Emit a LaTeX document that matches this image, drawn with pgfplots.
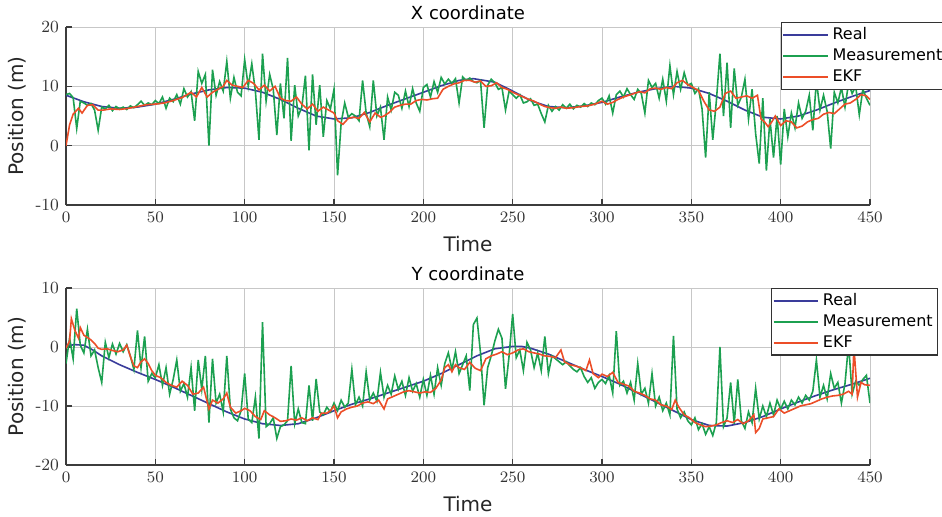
\documentclass[border=0pt]{standalone}
\usepackage{pgfplots}
\pgfplotsset{compat=1.18}
\usepackage{pgfplotstable}
\usepackage{fontspec}
\newfontfamily\dejavu{DejaVu Sans}

\definecolor{creal}{RGB}{58,60,155}
\definecolor{cmeas}{RGB}{28,160,80}
\definecolor{cekf}{RGB}{236,78,40}
\definecolor{caxis}{RGB}{60,60,60}

% X coordinate
\pgfplotstableread[row sep=\\]{t v\\
0 8.5\\ 10 7.4\\ 20 6.6\\ 30 6.3\\ 40 6.5\\ 50 7.0\\ 60 7.8\\ 70 8.7\\ 80 9.4\\ 90 9.8\\
100 9.7\\ 110 9.0\\ 120 7.8\\ 130 6.3\\ 140 5.0\\ 150 4.5\\ 160 4.7\\ 170 5.6\\ 180 6.8\\ 190 7.9\\
200 9.0\\ 210 10.1\\ 220 11.0\\ 228 11.3\\ 240 10.7\\ 250 9.2\\ 260 7.6\\ 270 6.6\\ 280 6.4\\ 290 6.7\\
300 7.3\\ 310 8.2\\ 320 9.0\\ 330 9.6\\ 340 10.0\\ 350 9.7\\ 360 8.8\\ 370 7.5\\ 380 6.0\\ 390 4.8\\
400 4.5\\ 410 5.0\\ 420 6.0\\ 430 7.2\\ 440 8.3\\ 450 9.3\\
}\xreal

\pgfplotstableread[row sep=\\]{t v\\
0 8.6\\ 2 8.8\\ 4 8.1\\ 6 2.9\\ 8 7.5\\ 10 7.2\\ 12 6.8\\ 14 7.1\\ 16 6.0\\ 18 2.6\\
20 6.5\\ 22 6.2\\ 24 6.8\\ 26 5.9\\ 28 6.6\\ 30 6.2\\ 32 6.5\\ 34 6.1\\ 36 6.7\\ 38 6.4\\
40 6.9\\ 42 7.5\\ 44 6.8\\ 46 7.2\\ 48 6.9\\ 50 7.6\\ 52 7.1\\ 54 8.2\\ 56 6.3\\ 58 8.0\\
60 7.4\\ 62 8.6\\ 64 7.0\\ 66 9.6\\ 68 8.2\\ 70 9.1\\ 72 4.2\\ 74 12.5\\ 76 10.5\\ 78 12.0\\
80 0.0\\ 82 12.8\\ 84 8.5\\ 86 10.8\\ 88 9.2\\ 90 14.2\\ 92 8.0\\ 94 11.5\\ 96 9.0\\ 98 8.4\\
100 14.5\\ 102 10.0\\ 104 13.8\\ 106 9.2\\ 108 1.0\\ 110 15.5\\ 112 7.5\\ 114 12.0\\ 116 9.5\\ 118 1.8\\
120 10.5\\ 122 4.6\\ 124 14.8\\ 126 0.8\\ 128 10.2\\ 130 5.0\\ 132 6.5\\ 134 11.8\\ 136 -0.8\\ 138 12.0\\
140 3.5\\ 142 10.2\\ 144 1.5\\ 146 7.6\\ 148 6.2\\ 150 9.5\\ 152 -5.0\\ 154 3.8\\ 156 7.2\\ 158 4.8\\
160 5.4\\ 162 5.0\\ 164 4.2\\ 166 11.0\\ 168 5.5\\ 170 3.2\\ 172 11.0\\ 174 5.0\\ 176 6.5\\ 178 1.0\\
180 8.2\\ 182 6.0\\ 184 9.0\\ 186 8.5\\ 188 6.3\\ 190 9.2\\ 192 6.6\\ 194 9.6\\ 196 7.2\\ 198 5.8\\
200 9.8\\ 202 10.3\\ 204 8.2\\ 206 10.8\\ 208 9.0\\ 210 11.5\\ 212 10.4\\ 214 11.2\\ 216 10.5\\ 218 11.3\\
220 7.2\\ 222 11.6\\ 224 11.0\\ 226 11.4\\ 228 10.8\\ 230 10.6\\ 232 11.0\\ 234 3.0\\ 236 10.2\\ 238 11.2\\
240 10.6\\ 242 9.5\\ 244 9.8\\ 246 6.0\\ 248 9.2\\ 250 8.6\\ 252 8.0\\ 254 8.6\\ 256 7.2\\ 258 7.4\\
260 7.9\\ 262 6.8\\ 264 7.0\\ 266 5.4\\ 268 4.0\\ 270 6.8\\ 272 5.8\\ 274 6.6\\ 276 6.0\\ 278 6.9\\
280 6.3\\ 282 7.0\\ 284 6.2\\ 286 6.8\\ 288 6.5\\ 290 7.1\\ 292 6.6\\ 294 7.2\\ 296 6.9\\ 298 7.6\\
300 8.0\\ 302 7.0\\ 304 8.4\\ 306 5.5\\ 308 8.6\\ 310 9.2\\ 312 8.2\\ 314 9.6\\ 316 8.6\\ 318 7.8\\
320 9.5\\ 322 8.8\\ 324 5.5\\ 326 11.0\\ 328 9.8\\ 330 10.5\\ 332 8.0\\ 334 11.2\\ 336 7.5\\ 338 13.5\\
340 8.6\\ 342 12.5\\ 344 9.5\\ 346 12.3\\ 348 10.2\\ 350 10.5\\ 352 8.8\\ 354 9.6\\ 356 6.2\\ 358 -2.0\\
360 9.0\\ 362 1.0\\ 364 7.5\\ 366 15.5\\ 368 5.0\\ 370 14.0\\ 372 3.0\\ 374 13.0\\ 376 6.8\\ 378 8.2\\
380 11.2\\ 382 4.5\\ 384 9.5\\ 386 2.0\\ 388 -3.0\\ 390 8.0\\ 392 -4.2\\ 394 4.5\\ 396 -2.0\\ 398 5.0\\
400 -3.2\\ 402 6.2\\ 404 1.5\\ 406 5.5\\ 408 3.0\\ 410 7.2\\ 412 4.6\\ 414 5.8\\ 416 8.5\\ 418 2.6\\
420 11.0\\ 422 6.0\\ 424 8.5\\ 426 5.8\\ 428 -0.5\\ 430 9.0\\ 432 7.2\\ 434 9.8\\ 436 6.5\\ 438 10.5\\
440 8.8\\ 442 10.0\\ 444 5.2\\ 446 9.5\\ 448 8.0\\ 450 6.8\\
}\xmeas

\pgfplotstableread[row sep=\\]{t v\\
0 0.0\\ 2 3.5\\ 4 5.3\\ 7 6.3\\ 9 5.5\\ 12 6.8\\ 15 6.9\\ 18 6.0\\ 21 6.0\\ 25 6.2\\
30 6.1\\ 35 6.3\\ 40 6.6\\ 45 6.9\\ 50 7.0\\ 55 7.2\\ 60 7.6\\ 65 8.1\\ 70 9.0\\ 73 8.2\\
76 9.8\\ 79 8.2\\ 82 9.0\\ 85 9.5\\ 88 10.0\\ 90 11.0\\ 93 10.2\\ 96 10.0\\ 99 9.8\\ 102 11.0\\
105 10.5\\ 108 9.4\\ 111 10.2\\ 114 9.2\\ 117 10.0\\ 120 8.0\\ 123 7.6\\ 126 7.5\\ 129 8.2\\ 132 7.0\\
135 6.2\\ 138 7.0\\ 141 5.8\\ 144 6.5\\ 147 6.0\\ 150 5.5\\ 152 4.2\\ 155 3.6\\ 158 4.6\\ 161 4.8\\
164 4.6\\ 167 5.6\\ 170 4.0\\ 173 5.5\\ 176 4.8\\ 178 5.0\\ 181 5.6\\ 184 6.5\\ 187 6.8\\ 190 7.0\\
193 7.0\\ 196 7.6\\ 199 7.8\\ 202 7.7\\ 205 7.9\\ 208 8.0\\ 211 9.5\\ 214 10.0\\ 217 10.4\\ 220 10.6\\
223 11.0\\ 226 11.0\\ 229 10.7\\ 232 10.9\\ 235 10.0\\ 238 10.1\\ 241 10.6\\ 244 9.8\\ 247 9.5\\ 250 9.0\\
253 8.6\\ 256 8.2\\ 259 7.8\\ 262 7.5\\ 265 7.0\\ 268 6.6\\ 271 6.4\\ 274 6.3\\ 277 6.5\\ 280 6.3\\
284 6.4\\ 288 6.6\\ 292 6.7\\ 296 7.0\\ 300 7.5\\ 303 7.0\\ 306 7.3\\ 309 7.8\\ 312 8.2\\ 315 8.5\\
318 8.8\\ 321 9.1\\ 324 8.9\\ 327 9.6\\ 330 9.7\\ 333 9.5\\ 336 9.8\\ 339 9.6\\ 342 10.6\\ 345 11.0\\
348 10.3\\ 351 9.8\\ 354 9.3\\ 357 7.5\\ 360 6.0\\ 363 5.8\\ 366 6.5\\ 369 8.8\\ 372 9.2\\ 375 8.0\\
378 8.2\\ 381 8.4\\ 384 8.0\\ 387 8.5\\ 389 4.5\\ 391 4.0\\ 393 3.2\\ 395 4.0\\ 397 5.0\\ 400 3.4\\
403 4.2\\ 406 4.0\\ 409 3.0\\ 412 3.3\\ 415 4.0\\ 418 4.4\\ 421 4.6\\ 424 5.3\\ 427 5.6\\ 430 5.4\\
433 6.2\\ 436 7.0\\ 439 7.2\\ 442 7.8\\ 445 8.6\\ 448 8.4\\ 450 7.8\\
}\xekf

% Y coordinate
\pgfplotstableread[row sep=\\]{t v\\
0 0.2\\ 5 0.4\\ 10 0.3\\ 15 -0.5\\ 20 -1.5\\ 30 -3.0\\ 40 -4.3\\ 50 -5.5\\ 60 -6.8\\ 70 -8.2\\
80 -9.6\\ 90 -11.0\\ 100 -12.2\\ 110 -13.0\\ 120 -13.3\\ 130 -13.0\\ 140 -12.0\\ 150 -10.8\\ 160 -9.7\\ 170 -8.8\\
180 -7.8\\ 190 -6.8\\ 200 -5.8\\ 210 -4.5\\ 220 -3.0\\ 230 -1.5\\ 240 -0.3\\ 250 0.1\\ 255 0.1\\ 260 -0.2\\
270 -1.2\\ 280 -2.5\\ 290 -3.8\\ 300 -5.0\\ 310 -6.3\\ 320 -7.8\\ 330 -9.3\\ 340 -10.8\\ 350 -12.3\\ 360 -13.3\\
370 -13.4\\ 380 -12.8\\ 390 -11.8\\ 400 -10.5\\ 410 -9.3\\ 420 -8.2\\ 430 -7.2\\ 440 -6.3\\ 450 -5.3\\
}\yreal

\pgfplotstableread[row sep=\\]{t v\\
0 -2.8\\ 2 1.5\\ 4 -2.0\\ 6 6.5\\ 8 0.3\\ 10 -1.0\\ 12 3.0\\ 14 -1.5\\ 16 -0.5\\ 18 -3.5\\
20 -6.0\\ 22 0.8\\ 24 -1.8\\ 26 0.5\\ 28 -1.2\\ 30 0.6\\ 32 -0.8\\ 34 0.4\\ 36 -1.5\\ 38 -3.8\\
40 2.8\\ 42 -3.5\\ 44 1.8\\ 46 -5.8\\ 48 -4.5\\ 50 -5.2\\ 52 -3.0\\ 54 -6.5\\ 56 -3.5\\ 58 -8.0\\
60 -5.5\\ 62 -2.2\\ 64 -7.5\\ 66 -6.2\\ 68 -8.5\\ 70 -3.5\\ 72 -10.8\\ 74 -2.2\\ 76 -7.2\\ 78 -1.5\\
80 -12.8\\ 82 -2.0\\ 84 -9.5\\ 86 -8.0\\ 88 -11.0\\ 90 -1.5\\ 92 -10.5\\ 94 -12.0\\ 96 -12.5\\ 98 -10.8\\
100 -4.5\\ 102 -12.2\\ 104 -12.8\\ 106 -8.5\\ 108 -15.5\\ 110 4.2\\ 112 -13.5\\ 114 -13.0\\ 116 -12.0\\ 118 -15.5\\
120 -13.5\\ 122 -13.2\\ 124 -12.5\\ 126 -3.2\\ 128 -13.0\\ 130 -10.5\\ 132 -12.8\\ 134 -13.0\\ 136 -6.5\\ 138 -12.5\\
140 -5.4\\ 142 -11.0\\ 144 -11.5\\ 146 -10.2\\ 148 -11.0\\ 150 -9.5\\ 152 -10.8\\ 154 -9.0\\ 156 -10.2\\ 158 -9.5\\
160 -3.8\\ 162 -9.8\\ 164 -8.5\\ 166 -10.0\\ 168 -4.2\\ 170 -9.0\\ 172 -7.8\\ 174 -9.2\\ 176 -4.3\\ 178 -8.5\\
180 -6.5\\ 182 -8.0\\ 184 -4.9\\ 186 -7.2\\ 188 -5.8\\ 190 -8.2\\ 192 -5.2\\ 194 -7.5\\ 196 -6.2\\ 198 -8.5\\
200 -5.5\\ 202 -8.2\\ 204 -4.8\\ 206 -8.0\\ 208 -3.5\\ 210 -6.5\\ 212 -2.8\\ 214 -1.0\\ 216 -3.8\\ 218 -0.8\\
220 -4.5\\ 222 -3.0\\ 224 -1.5\\ 226 -7.4\\ 228 3.8\\ 230 4.9\\ 232 -1.0\\ 234 -9.9\\ 236 -3.5\\ 238 -1.5\\
240 1.0\\ 242 3.0\\ 244 1.5\\ 246 -7.1\\ 248 -1.5\\ 250 5.6\\ 252 -1.8\\ 254 -0.5\\ 256 -4.0\\ 258 0.8\\
260 -0.5\\ 262 -3.5\\ 264 -1.0\\ 266 -4.0\\ 268 1.8\\ 270 -4.5\\ 272 -1.5\\ 274 -2.0\\ 276 -2.5\\ 278 -3.0\\
280 -2.5\\ 282 -3.2\\ 284 -3.8\\ 286 -4.2\\ 288 -3.5\\ 290 -5.0\\ 292 -6.0\\ 294 -5.2\\ 296 -7.0\\ 298 -6.0\\
300 -5.5\\ 302 -6.2\\ 304 -4.8\\ 306 -7.8\\ 308 2.7\\ 310 -6.5\\ 312 -5.8\\ 314 -7.8\\ 316 -6.0\\ 318 -9.0\\
320 -2.8\\ 322 -8.0\\ 324 -7.0\\ 326 -9.5\\ 328 -4.5\\ 330 -10.0\\ 332 -8.5\\ 334 -10.8\\ 336 -9.5\\ 338 -11.5\\
340 1.9\\ 342 -10.5\\ 344 -12.0\\ 346 -11.0\\ 348 -12.5\\ 350 -13.2\\ 352 -12.0\\ 354 -14.0\\ 356 -13.0\\ 358 -14.8\\
360 -13.5\\ 362 -15.0\\ 364 -12.8\\ 366 0.0\\ 368 -13.5\\ 370 -12.0\\ 372 -6.0\\ 374 -13.0\\ 376 -5.5\\ 378 -12.5\\
380 -13.8\\ 382 -11.0\\ 384 -12.8\\ 386 -7.0\\ 388 -12.2\\ 390 -10.0\\ 392 -11.8\\ 394 -9.5\\ 396 -11.5\\ 398 -9.0\\
400 -10.5\\ 402 -9.2\\ 404 -10.5\\ 406 -9.0\\ 408 -9.8\\ 410 -8.5\\ 412 -9.5\\ 414 -8.2\\ 416 -9.0\\ 418 -7.5\\
420 -2.2\\ 422 -8.5\\ 424 -6.5\\ 426 -8.8\\ 428 -4.5\\ 430 -7.0\\ 432 -6.0\\ 434 -9.5\\ 436 -6.2\\ 438 0.5\\
440 -8.0\\ 442 -5.8\\ 444 -6.5\\ 446 -5.5\\ 448 -4.8\\ 450 -9.5\\
}\ymeas

\pgfplotstableread[row sep=\\]{t v\\
0 -0.2\\ 2 1.0\\ 3 4.8\\ 5 2.8\\ 7 1.5\\ 8 3.3\\ 10 2.0\\ 12 1.6\\ 14 1.2\\ 16 0.6\\
18 -0.2\\ 20 -0.4\\ 23 -0.3\\ 26 -0.6\\ 29 -0.8\\ 32 -0.5\\ 34 0.3\\ 36 -1.6\\ 38 -3.2\\ 40 -3.5\\
42 -2.5\\ 44 -2.0\\ 46 -2.8\\ 48 -4.0\\ 50 -4.8\\ 53 -5.2\\ 56 -6.0\\ 59 -6.5\\ 62 -6.8\\ 65 -5.8\\
68 -6.5\\ 71 -8.0\\ 74 -7.8\\ 77 -6.8\\ 80 -10.5\\ 82 -9.0\\ 85 -9.5\\ 88 -8.8\\ 90 -7.8\\ 92 -10.2\\
95 -11.2\\ 98 -10.8\\ 100 -10.4\\ 103 -10.8\\ 106 -11.8\\ 109 -12.3\\ 111 -10.8\\ 114 -11.5\\ 117 -12.0\\ 120 -12.6\\
123 -12.5\\ 126 -12.2\\ 129 -12.4\\ 132 -12.0\\ 135 -12.5\\ 138 -12.0\\ 141 -12.3\\ 143 -11.2\\ 146 -11.2\\ 148 -10.8\\
150 -10.0\\ 152 -12.0\\ 154 -11.0\\ 157 -10.5\\ 160 -10.2\\ 163 -10.0\\ 166 -9.5\\ 169 -9.3\\ 172 -9.6\\ 175 -9.0\\
178 -10.5\\ 180 -8.8\\ 183 -8.4\\ 186 -8.0\\ 189 -7.6\\ 192 -7.4\\ 195 -7.6\\ 198 -7.8\\ 201 -7.6\\ 204 -7.7\\
207 -7.0\\ 210 -5.6\\ 212 -3.5\\ 214 -3.0\\ 216 -4.2\\ 218 -3.0\\ 220 -3.5\\ 223 -3.8\\ 226 -2.6\\ 229 -3.6\\
232 -4.0\\ 235 -2.0\\ 238 -1.5\\ 241 -1.2\\ 244 -0.8\\ 247 -1.3\\ 250 -1.0\\ 253 -0.5\\ 256 -0.3\\ 259 -0.8\\
262 -1.0\\ 265 -1.2\\ 268 -1.5\\ 271 -1.6\\ 274 -1.8\\ 277 -0.5\\ 279 -2.5\\ 282 -3.0\\ 285 -3.2\\ 288 -3.5\\
291 -4.0\\ 293 -2.2\\ 295 -4.5\\ 298 -5.2\\ 300 -4.6\\ 303 -5.0\\ 306 -4.3\\ 309 -6.0\\ 312 -6.3\\ 315 -6.6\\
318 -7.5\\ 321 -7.8\\ 324 -8.2\\ 327 -8.8\\ 330 -9.0\\ 333 -9.8\\ 336 -10.0\\ 339 -10.6\\ 341 -9.0\\ 343 -10.2\\
346 -11.5\\ 349 -12.0\\ 352 -12.8\\ 355 -13.2\\ 358 -13.5\\ 361 -13.4\\ 364 -13.2\\ 367 -12.8\\ 370 -12.5\\ 373 -12.8\\
376 -12.3\\ 379 -13.0\\ 382 -12.5\\ 385 -11.5\\ 386 -14.5\\ 388 -13.8\\ 390 -12.2\\ 393 -12.0\\ 396 -11.8\\ 399 -10.5\\
402 -11.2\\ 405 -10.8\\ 408 -10.4\\ 411 -10.0\\ 414 -9.8\\ 417 -9.6\\ 420 -9.2\\ 423 -8.8\\ 426 -8.5\\ 429 -8.3\\
432 -8.2\\ 435 -8.0\\ 438 -7.5\\ 440 -8.0\\ 441 0.0\\ 443 -8.5\\ 445 -6.0\\ 447 -6.4\\ 450 -6.5\\
}\yekf

\pgfplotsset{
  trackax/.style={
    scale only axis, width=402pt, height=89pt,
    xmin=0, xmax=450, xtick={0,50,...,450},
    axis x line*=bottom, axis y line*=left,
    axis line style={caxis, line width=0.7pt, -},
    tick style={caxis, line width=0.6pt},
    tick align=inside, major tick length=3pt,
    grid=major, grid style={black!22, line width=0.5pt},
    tick label style={font=\fontsize{8.5}{10}\selectfont, text=black!80},
    xlabel={Time}, ylabel={Position (m)},
    label style={font=\dejavu\fontsize{10}{12}\selectfont, text=black!85},
    ylabel style={at={(axis description cs:-0.061,0.5)}, anchor=center},
    title style={font=\dejavu\fontsize{9}{11}\selectfont, at={(0.5,1)}, anchor=south, yshift=-6pt},
    legend style={font=\dejavu\fontsize{8}{9.5}\selectfont, draw=black!80,
      line width=0.6pt, anchor=north west, inner xsep=0.5pt, inner ysep=0.5pt,
      row sep=-1pt, cells={anchor=west}},
    legend image code/.code={\draw[##1, line width=0.9pt] (0cm,0cm) -- (0.78cm,0cm);},
    every axis plot/.append style={line width=0.8pt, mark=none},
  }
}

\begin{document}
\begin{tikzpicture}
\useasboundingbox (0,0) rectangle (471pt,258pt);
\begin{axis}[trackax, at={(33pt,155.5pt)}, anchor=south west,
  ymin=-10, ymax=20, ytick={-10,0,10,20}, yticklabels={\mbox{-}10,0,10,20},
  title={X coordinate}, legend style={at={(0.889,1.028)}}]
\addplot[creal] table[x=t, y=v] {\xreal};
\addplot[cmeas] table[x=t, y=v] {\xmeas};
\addplot[cekf] table[x=t, y=v] {\xekf};
\legend{Real, Measurement, EKF}
\end{axis}
\begin{axis}[trackax, at={(33pt,25.5pt)}, anchor=south west, height=88.5pt,
  ymin=-20, ymax=10, ytick={-20,-10,0,10}, yticklabels={\mbox{-}20,\mbox{-}10,0,10},
  title={Y coordinate}, legend style={at={(0.877,1.0)}}]
\addplot[creal] table[x=t, y=v] {\yreal};
\addplot[cmeas] table[x=t, y=v] {\ymeas};
\addplot[cekf] table[x=t, y=v] {\yekf};
\legend{Real, Measurement, EKF}
\end{axis}
\end{tikzpicture}
\end{document}
